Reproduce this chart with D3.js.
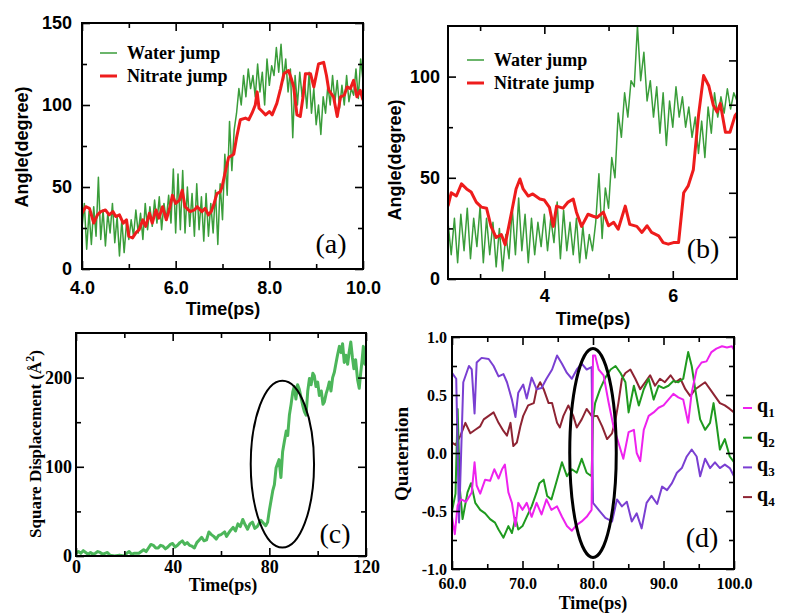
<!DOCTYPE html>
<html lang="en">
<head>
<meta charset="UTF-8">
<title>Water / nitrate jump panels</title>
<script src="https://d3js.org/d3.v7.min.js"></script>
<style>
  body { margin: 0; background: white; }
  svg { display: block; }
</style>
</head>
<body>
<svg id="fig" width="785" height="616"></svg>
<script>
// ---------- data ----------
// panel (a): water jump sampled every 0.05 ps from 4.0 ps
const aWaterStart = 4.0, aWaterStep = 0.05;
const aWater = [25,40,12,35,15,38,20,56,18,36,14,34,22,40,16,32,8,30,10,28,
  18,30,20,36,22,34,18,40,24,38,26,42,28,44,24,40,30,45,28,61,
  22,58,24,60,22,50,26,46,20,52,24,44,17,46,20,40,22,48,15,52,
  30,70,45,90,60,85,95,110,100,118,105,122,110,118,105,125,108,120,100,128,
  112,124,118,135,120,137,115,128,108,122,80,118,100,120,105,115,98,120,95,110,
  88,100,82,105,95,112,100,118,102,115,98,112,100,118,102,110,106,122,104,128,115];
const aNitrate = [[4.0,34],[4.08,38],[4.16,37],[4.25,28],[4.33,33],[4.4,35],[4.5,36],[4.58,33],
  [4.66,35],[4.72,32],[4.8,33],[4.88,28],[4.95,30],[5.0,20],[5.08,19],[5.15,22],[5.22,24],
  [5.3,30],[5.36,26],[5.44,34],[5.5,28],[5.58,36],[5.64,31],[5.72,38],[5.8,30],[5.88,38],
  [5.93,45],[6.0,40],[6.08,42],[6.14,48],[6.2,38],[6.31,35],[6.4,36],[6.46,38],[6.56,35],
  [6.63,37],[6.7,33],[6.76,35],[6.81,39],[6.88,46],[6.95,47],[6.99,50],[7.05,58],[7.13,68],
  [7.24,70],[7.3,80],[7.38,91],[7.49,92],[7.56,91],[7.63,95],[7.7,100],[7.74,108],[7.78,98],
  [7.85,96],[7.92,94],[8.0,96],[8.06,94],[8.16,101],[8.24,110],[8.31,119],[8.41,121],[8.47,116],
  [8.52,111],[8.59,94],[8.66,93],[8.72,105],[8.77,119],[8.88,119],[8.95,111],[9.05,125],
  [9.16,126],[9.22,118],[9.27,109],[9.37,105],[9.45,93],[9.52,105],[9.6,106],[9.66,111],
  [9.73,110],[9.8,115],[9.87,105],[9.94,109],[10.0,103]];

// panel (b): water jump sampled every 0.05 ps from 2.5 ps
const bWaterStart = 2.5, bWaterStep = 0.05;
const bWater = [28,12,30,8,32,14,35,10,30,16,36,8,30,12,28,6,25,4,22,10,
  35,12,40,14,32,8,30,12,28,16,32,14,30,18,38,10,34,14,28,12,
  30,8,26,10,22,14,28,52,20,45,35,60,50,82,70,92,80,98,95,125,
  98,112,88,98,80,95,72,92,66,88,75,95,80,90,75,85,70,80,62,78,
  60,85,72,92,80,90,82,94,84,92,88];
const bNitrate = [[2.5,36],[2.55,42.6],[2.63,41],[2.71,47],[2.79,44.5],[2.86,43],[2.94,38],
  [3.02,35.5],[3.1,35],[3.17,26],[3.25,20.5],[3.33,22],[3.39,17],[3.49,33],[3.56,44.5],
  [3.62,49.4],[3.67,44.5],[3.75,41],[3.82,42],[3.93,39.5],[4.0,39],[4.08,35.4],[4.14,26],
  [4.19,36],[4.29,35],[4.37,38],[4.45,39.5],[4.5,33],[4.58,26],[4.68,32],[4.76,31],[4.82,30.4],
  [4.92,33],[5.0,26.3],[5.08,28],[5.15,24.6],[5.26,36],[5.33,27],[5.44,26],[5.52,23],[5.6,26.3],
  [5.67,23],[5.78,21.3],[5.85,18],[5.93,17.2],[6.01,18],[6.09,18],[6.17,42.6],[6.24,46],
  [6.32,54],[6.4,80.7],[6.48,100.5],[6.56,95.5],[6.63,86],[6.69,82.5],[6.74,86.7],[6.82,72.5],
  [6.89,72.5],[6.97,80.7],[7.0,82]];
const bRightTicks = [20.8, 42.6, 64.4, 86.1, 108];

// panel (c): square displacement
const cDisp = [[0,3],[1,5],[2,3],[3,6],[4,4],[5,2],[6,4],[7,2],[8,3],[9,5],[10,4],[11,2],[12,3],
  [13,4],[14,1],[16,0],[18,1],[20,0],[21,3],[22,5],[23,2],
  [24,3],[26,3],[28,7],[29,5],[30,9],[31,13],[32,12],[33,9],[34,9],[35,12],[36,11],[37,8],[38,10],
  [39,13],[40,14],[41,10],[42,12],[43,15],[44,17],[45,13],[46,15],[47,12],
  [48,11],[49,9],[50,15],[51,18],[52,21],[53,17],[54,18],[55,27],[56,24],[57,22],[58,19],[59,23],
  [60,24],[61.5,27],[62.3,22],[63,25],[64,29],[65,32],[66,28],[67,36],[68,33],[69,41],[70,35],
  [71,30],[72,36],[73,38],[74,31],[75,33],[76.5,40],[77.5,37],[78.5,34],[79.3,38],[80,51],
  [81.4,73],[82.1,80],[82.8,99],[84,108],[84.8,88],[85.5,117],[86.2,128],[87,140],[87.6,135],
  [88.3,158],[89,170],[89.7,184],[90.3,190],[91,176],[91.7,192],[92.4,187],[93.1,178],[93.8,169],
  [94.5,162],[95.2,158],[95.9,185],[96.6,199],[97.3,192],[98,205],[98.6,202],[99.3,190],[100,195],
  [100.7,180],[101.5,185],[102.2,170],[102.8,173],[103.5,182],[104.2,188],[104.8,195],[105.5,185],
  [106.2,200],[106.9,206],[107.5,215],[108.2,225],[109,235],[109.7,228],[110.3,238],[111,217],
  [111.7,225],[112.4,215],[113,228],[113.7,240],[114.4,222],[115,210],[115.7,220],[116.5,198],
  [117.2,188],[117.8,205],[118.4,220],[118.9,235],[119.5,215],[120,230]];
const cEllipse = [85.4, 103, 13.1, 93.6];   // cx, cy, rx, ry in data units

// panel (d): quaternion components
const q1 = [[60,-0.55],[60.4,-0.7],[60.8,-0.45],[61.3,-0.4],[62,-0.42],[62.8,-0.34],[63.2,-0.08],
  [63.5,-0.28],[64,-0.35],[64.7,-0.23],[65.4,-0.24],[66,-0.14],[66.6,-0.22],[67.1,-0.14],
  [67.5,-0.1],[68,-0.34],[68.5,-0.43],[69,-0.63],[69.4,-0.43],[70,-0.49],[70.6,-0.43],
  [71.3,-0.55],[72,-0.43],[72.7,-0.53],[73.4,-0.4],[74.1,-0.49],[74.9,-0.46],[75.6,-0.55],
  [76.3,-0.63],[77,-0.67],[77.7,-0.62],[78.4,-0.59],[79.1,-0.55],[79.8,-0.49],[80,0.84],
  [80.3,0.84],[80.8,0.72],[81.5,0.67],[82.2,0.44],[82.9,0.23],[83.6,0.09],[84.3,-0.05],
  [85.05,0.18],[85.8,0.2],[86.2,0.0],[86.7,-0.07],[87.2,0.2],[87.9,0.32],[88.6,0.35],
  [89.3,0.39],[90,0.41],[90.7,0.46],[91.4,0.51],[92.1,0.48],[92.8,0.46],[93.5,0.26],[94,0.52],
  [94.7,0.72],[95.4,0.78],[96.1,0.79],[96.8,0.87],[97.5,0.9],[98.3,0.92],[99,0.91],[99.7,0.92],
  [100,0.89]];
const q2 = [[60,-0.5],[60.5,-0.35],[60.8,0.38],[61.1,-0.3],[61.5,-0.57],[62.2,-0.34],[62.7,-0.26],
  [63.3,-0.43],[64,-0.49],[64.7,-0.52],[65.4,-0.57],[66.1,-0.6],[66.6,-0.66],[67.3,-0.73],
  [68,-0.63],[68.5,-0.69],[69,-0.56],[69.4,-0.66],[70,-0.63],[70.6,-0.55],[71.3,-0.46],
  [72,-0.34],[72.4,-0.26],[73,-0.23],[73.5,-0.37],[74.1,-0.4],[74.9,-0.23],[75.6,-0.08],
  [76.3,-0.2],[77,-0.14],[77.7,-0.17],[78.4,-0.05],[79.1,-0.17],[79.8,-0.2],[80,0.29],
  [80.3,0.43],[81,0.55],[81.75,0.65],[82.5,0.72],[83.2,0.75],[83.9,0.69],[84.6,0.61],
  [85.05,0.35],[85.8,0.58],[86.5,0.41],[87.2,0.55],[87.9,0.64],[88.6,0.46],[89.3,0.58],
  [90,0.56],[90.7,0.58],[91.4,0.62],[92.1,0.61],[92.8,0.64],[93.5,0.87],[94,0.75],[94.5,0.55],
  [95.2,0.29],[95.9,0.2],[96.6,0.26],[97.1,0.43],[97.5,0.26],[98,0.03],[98.7,0.12],[99.4,-0.03],
  [100,-0.08]];
const q3 = [[60,0.69],[60.6,0.64],[61,-0.6],[61.6,0.61],[62.4,0.75],[62.8,0.72],[63.2,0.34],
  [63.5,0.78],[64.2,0.82],[65.2,0.81],[65.9,0.75],[66.6,0.66],[67.3,0.68],[67.8,0.61],
  [68.5,0.46],[69,0.31],[69.4,0.52],[70.1,0.59],[70.6,0.47],[71.3,0.65],[72,0.55],[72.7,0.56],
  [73.4,0.64],[74.2,0.72],[74.9,0.84],[75.6,0.77],[76.3,0.69],[77,0.64],[77.7,0.72],[78.4,0.77],
  [79.1,0.72],[79.8,0.74],[80,-0.43],[80.8,-0.49],[81.75,-0.56],[82.7,-0.59],[83.4,-0.4],
  [84.1,-0.46],[84.8,-0.42],[85.5,-0.59],[86.2,-0.52],[86.9,-0.65],[87.6,-0.43],[88.3,-0.37],
  [89.1,-0.44],[89.8,-0.29],[90.5,-0.32],[91.2,-0.26],[91.9,-0.17],[92.6,-0.13],[93.3,-0.03],
  [94,0.03],[94.7,-0.03],[95.2,-0.2],[95.9,-0.05],[96.6,-0.13],[97.3,-0.08],[98,-0.13],
  [98.7,-0.1],[99.4,-0.13],[100,-0.2]];
const q4 = [[60,0.09],[60.5,0.07],[61.2,0.15],[61.9,0.26],[62.6,0.17],[63.3,0.2],[64,0.23],
  [64.5,0.29],[65.2,0.32],[65.9,0.35],[66.6,0.26],[67.3,0.19],[67.8,0.15],[68.3,0.26],
  [68.7,0.06],[69.2,0.09],[69.7,0.23],[70.1,0.32],[70.8,0.41],[71.6,0.43],[72,0.55],[72.5,0.61],
  [73,0.55],[73.7,0.43],[74.2,0.43],[74.9,0.26],[75.3,0.22],[75.8,0.32],[76.5,0.41],[77.2,0.32],
  [77.7,0.22],[78.4,0.29],[79.1,0.38],[79.8,0.32],[80.6,0.32],[81.3,0.23],[82,0.12],[82.7,0.17],
  [83.2,0.29],[83.6,0.43],[84.1,0.64],[84.6,0.69],[85.3,0.72],[86,0.64],[86.7,0.55],[87.4,0.61],
  [88.1,0.67],[88.8,0.58],[89.5,0.64],[90.2,0.61],[91,0.67],[91.7,0.61],[92.4,0.64],[93.1,0.55],
  [93.8,0.49],[94.5,0.55],[95.2,0.58],[95.9,0.61],[96.6,0.55],[97.3,0.49],[98,0.43],[98.7,0.41],
  [99.4,0.38],[100,0.35]];
const dEllipse = [80, 0, 3.3, 0.9];
const qNames = ["1", "2", "3", "4"];
const qColors = ["#ee22ee", "#1f9a1f", "#7a3fd2", "#8e2433"];

// ---------- drawing ----------
const svg = d3.select("#fig");
const SANS = "'Liberation Sans', Arial, sans-serif";
const SERIF = "'Liberation Serif', 'Times New Roman', serif";

function panel(p) {
  const x = d3.scaleLinear().domain(p.xDomain).range([p.left, p.right]);
  const y = d3.scaleLinear().domain(p.yDomain).range([p.bottom, p.top]);
  const g = svg.append("g");
  const clipId = "clip" + p.id;
  svg.append("clipPath").attr("id", clipId).append("rect")
    .attr("x", p.left).attr("y", p.top)
    .attr("width", p.right - p.left).attr("height", p.bottom - p.top);
  const plot = g.append("g").attr("clip-path", `url(#${clipId})`);

  const ax = (axis, tx, ty, vals, size, fmt, pad) => {
    const a = g.append("g").attr("transform", `translate(${tx},${ty})`)
      .call(axis.tickValues(vals).tickSize(-size).tickPadding(pad || 0)
        .tickFormat(fmt || (() => "")));
    a.select(".domain").remove();
    a.selectAll("line").attr("stroke", "#000").attr("stroke-width", 1.6);
    a.selectAll("text").attr("font-family", p.font).attr("font-weight", "bold")
      .attr("font-size", p.tickSize).attr("fill", "#000");
    return a;
  };
  ax(d3.axisBottom(x), 0, p.bottom, p.xMajor, 8, p.xFmt, p.xPad);
  ax(d3.axisBottom(x), 0, p.bottom, p.xMinor, 5);
  ax(d3.axisTop(x), 0, p.top, p.xMajor, 8);
  ax(d3.axisTop(x), 0, p.top, p.xMinor, 5);
  ax(d3.axisLeft(y), p.left, 0, p.yMajor, 8, p.yFmt, p.yPad);
  ax(d3.axisLeft(y), p.left, 0, p.yMinor, 5);
  ax(d3.axisRight(y), p.right, 0, p.yRight || p.yMajor, 8);
  if (!p.yRight) ax(d3.axisRight(y), p.right, 0, p.yMinor, 5);

  g.append("rect").attr("x", p.left).attr("y", p.top)
    .attr("width", p.right - p.left).attr("height", p.bottom - p.top)
    .attr("fill", "none").attr("stroke", "#000").attr("stroke-width", 2);
  return { x, y, g, plot };
}

function addLine(P, data, color, width) {
  P.plot.append("path").datum(data)
    .attr("fill", "none").attr("stroke", color).attr("stroke-width", width)
    .attr("stroke-linejoin", "round")
    .attr("d", d3.line().x(d => P.x(d[0])).y(d => P.y(d[1])));
}

function label(txt, x, y, font, size, weight, rotate) {
  return svg.append("text").attr("x", x).attr("y", y)
    .attr("transform", rotate ? `rotate(-90,${x},${y})` : null)
    .attr("text-anchor", "middle").attr("font-family", font)
    .attr("font-size", size).attr("font-weight", weight).text(txt);
}

function legendJump(lx, ly) {
  const items = [["Water jump", "#3a9d3a", 1.5], ["Nitrate jump", "#ee1c1c", 3]];
  items.forEach((it, i) => {
    const yy = ly + i * 23;
    svg.append("line").attr("x1", lx).attr("x2", lx + 17).attr("y1", yy).attr("y2", yy)
      .attr("stroke", it[1]).attr("stroke-width", it[2]);
    svg.append("text").attr("x", lx + 27).attr("y", yy + 6)
      .attr("font-family", SERIF).attr("font-weight", "bold").attr("font-size", 18)
      .text(it[0]);
  });
}

const fmt1 = d => d.toFixed(1);
const fmt0 = d => String(d);

// (a)
const A = panel({ id: "a", left: 82, right: 363, top: 23, bottom: 269,
  xDomain: [4, 10], yDomain: [0, 150],
  xMajor: [4, 6, 8, 10], xMinor: [5, 7, 9], yMajor: [0, 50, 100, 150], yMinor: [25, 75, 125],
  xFmt: fmt1, yFmt: fmt0, font: SANS, tickSize: 18, xPad: 12, yPad: 10 });
addLine(A, aWater.map((v, i) => [aWaterStart + i * aWaterStep, v]), "#3a9d3a", 1.5);
addLine(A, aNitrate, "#ee1c1c", 3);
legendJump(100, 53);
label("Angle(degree)", 28, 147, SANS, 18, "bold", true);
label("Time(ps)", 223, 315, SANS, 18, "bold");
label("(a)", 331, 253, SERIF, 28, "normal");

// (b)
const B = panel({ id: "b", left: 448, right: 737, top: 26, bottom: 279,
  xDomain: [2.5, 7], yDomain: [0, 125],
  xMajor: [4, 6], xMinor: [3, 5], yMajor: [0, 50, 100], yMinor: [25, 75], yRight: bRightTicks,
  xFmt: fmt0, yFmt: fmt0, font: SANS, tickSize: 18, xPad: 10, yPad: 8 });
addLine(B, bWater.map((v, i) => [bWaterStart + i * bWaterStep, v]), "#3a9d3a", 1.5);
addLine(B, bNitrate, "#ee1c1c", 3);
legendJump(467, 60);
label("Angle(degree)", 401, 160, SANS, 18, "bold", true);
label("Time(ps)", 593, 325, SANS, 18, "bold");
label("(b)", 703, 258, SERIF, 28, "normal");

// (c)
const C = panel({ id: "c", left: 76, right: 366, top: 333, bottom: 556,
  xDomain: [0, 120], yDomain: [0, 250],
  xMajor: [0, 40, 80, 120], xMinor: [20, 60, 100], yMajor: [0, 100, 200], yMinor: [50, 150],
  xFmt: fmt0, yFmt: fmt0, font: SERIF, tickSize: 18, xPad: 4, yPad: 4 });
addLine(C, cDisp, "#4cb65a", 3);
C.g.append("ellipse")
  .attr("cx", C.x(cEllipse[0])).attr("cy", C.y(cEllipse[1]))
  .attr("rx", C.x(cEllipse[0] + cEllipse[2]) - C.x(cEllipse[0]))
  .attr("ry", C.y(0) - C.y(cEllipse[3]))
  .attr("fill", "none").attr("stroke", "#000").attr("stroke-width", 2);
const ct = label("Square Displacement (Å", 41, 444, SERIF, 17, "bold", true);
ct.append("tspan").attr("baseline-shift", "super").attr("font-size", 12).text("2");
ct.append("tspan").text(")");
label("Time(ps)", 223, 591, SERIF, 18, "bold");
label("(c)", 335, 543, SERIF, 28, "normal");

// (d)
const D = panel({ id: "d", left: 452, right: 734, top: 337, bottom: 569,
  xDomain: [60, 100], yDomain: [-1, 1],
  xMajor: [60, 70, 80, 90, 100], xMinor: [65, 75, 85, 95],
  yMajor: [-1, -0.5, 0, 0.5, 1], yMinor: [-0.75, -0.25, 0.25, 0.75],
  xFmt: fmt1, yFmt: fmt1, font: SERIF, tickSize: 16, xPad: 9, yPad: 5 });
[q4, q2, q3, q1].forEach((s, i) => addLine(D, s, qColors[[3, 1, 2, 0][i]], 2));
D.g.append("ellipse")
  .attr("cx", D.x(dEllipse[0])).attr("cy", D.y(dEllipse[1]))
  .attr("rx", D.x(dEllipse[0] + dEllipse[2]) - D.x(dEllipse[0]))
  .attr("ry", D.y(0) - D.y(dEllipse[3]))
  .attr("fill", "none").attr("stroke", "#000").attr("stroke-width", 3);
qNames.forEach((n, i) => {
  const yy = 408 + i * 29.7;
  svg.append("line").attr("x1", 743).attr("x2", 752).attr("y1", yy).attr("y2", yy)
    .attr("stroke", qColors[i]).attr("stroke-width", 2);
  const t = svg.append("text").attr("x", 757).attr("y", yy + 4)
    .attr("font-family", SERIF).attr("font-weight", "bold").attr("font-size", 20).text("q");
  t.append("tspan").attr("dy", 5).attr("font-size", 13).text(n);
});
label("Quaternion", 408, 454, SERIF, 19, "bold", true);
label("Time(ps)", 593, 609, SERIF, 18, "bold");
label("(d)", 702, 547, SERIF, 28, "normal");
</script>
</body>
</html>
